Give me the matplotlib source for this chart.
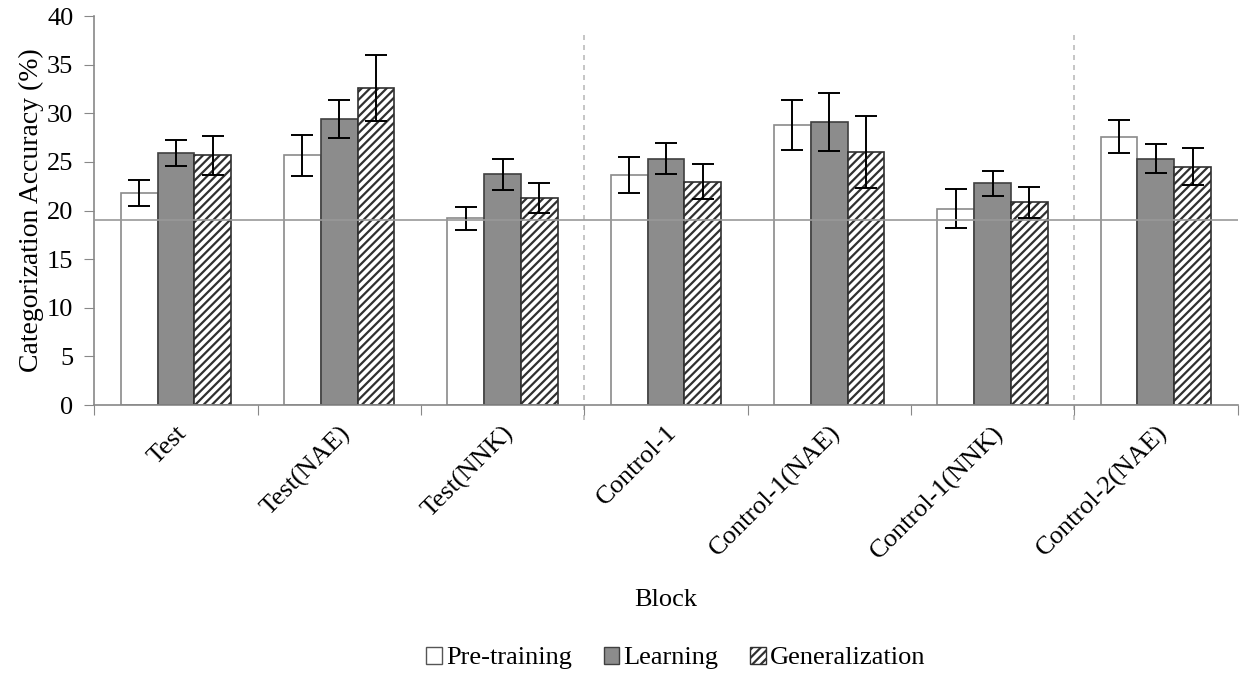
import numpy as np
import matplotlib
matplotlib.use("Agg")
import matplotlib.pyplot as plt
from matplotlib.patches import Patch

# values
blocks = ["Test", "Test(NAE)", "Test(NNK)", "Control-1",
          "Control-1(NAE)", "Control-1(NNK)", "Control-2(NAE)"]
pre_training = [21.8, 25.7, 19.2, 23.65, 28.8, 20.2, 27.6]
pre_training_err = [1.3, 2.1, 1.2, 1.85, 2.55, 2.0, 1.7]
learning = [25.95, 29.4, 23.75, 25.35, 29.1, 22.8, 25.35]
learning_err = [1.35, 1.95, 1.6, 1.6, 3.0, 1.3, 1.5]
generalization = [25.7, 32.6, 21.3, 22.95, 26.05, 20.85, 24.5]
generalization_err = [2.0, 3.4, 1.5, 1.8, 3.7, 1.6, 1.9]
chance_level = 19.0
separators = [2.5, 5.5]

plt.rcParams['font.family'] = ['Liberation Serif', 'DejaVu Serif']
plt.rcParams['hatch.linewidth'] = 1.6

fig = plt.figure(figsize=(12.4, 6.75), dpi=100)
ax = fig.add_axes([0.076, 0.4, 0.922, 0.576])

x = np.arange(len(blocks))
width = 0.225
err_kw = dict(ecolor='black', capsize=8, elinewidth=1.4, capthick=1.4)

ax.bar(x - width, pre_training, width, yerr=pre_training_err, color='white',
       edgecolor='#8a8a8a', linewidth=1.2, error_kw=err_kw, zorder=2)
ax.bar(x, learning, width, yerr=learning_err, color='#8c8c8c',
       edgecolor='#404040', linewidth=1.2, error_kw=err_kw, zorder=2)
ax.bar(x + width, generalization, width, yerr=generalization_err, color='white',
       edgecolor='#303030', hatch='////', linewidth=1.2, error_kw=err_kw, zorder=2)

ax.axhline(chance_level, color='#999999', linewidth=1.2, zorder=3)
for s in separators:
    ax.plot([s, s], [-1.5, 38.5], color='#bbbbbb', linestyle=(0, (3, 3)),
            linewidth=1.2, clip_on=False, zorder=1)

ax.set_xlim(-0.5, len(blocks) - 0.5)
ax.set_ylim(0, 40)
ax.set_yticks(range(0, 41, 5))
ax.set_xticks(np.arange(-0.5, len(blocks)), minor=False)
ax.set_xticklabels([])
ax.set_xticks(x, minor=True)
ax.set_xticklabels(blocks, minor=True, rotation=45, ha='right', va='top',
                   rotation_mode='anchor', fontsize=19)
ax.tick_params(axis='x', which='minor', length=0, pad=12)
ax.tick_params(axis='x', which='major', length=7, color='#888888', direction='out')
ax.tick_params(axis='y', length=7, color='#888888', labelsize=19, pad=8)

for side in ['top', 'right']:
    ax.spines[side].set_visible(False)
for side in ['left', 'bottom']:
    ax.spines[side].set_color('#888888')
    ax.spines[side].set_linewidth(1.2)

ax.set_ylabel('Categorization Accuracy (%)', fontsize=20, labelpad=2)
fig.text(0.537, 0.111, 'Block', ha='center', va='center', fontsize=19)

handles = [Patch(facecolor='white', edgecolor='#555555'),
           Patch(facecolor='#8c8c8c', edgecolor='#404040'),
           Patch(facecolor='white', edgecolor='#303030', hatch='////')]
fig.legend(handles, ['Pre-training', 'Learning', 'Generalization'],
           loc='center', bbox_to_anchor=(0.545, 0.025), ncol=3, frameon=False,
           fontsize=19, handlelength=0.6, handleheight=0.6, handletextpad=0.15,
           columnspacing=1.2)

fig.savefig('out.png', dpi=100)
